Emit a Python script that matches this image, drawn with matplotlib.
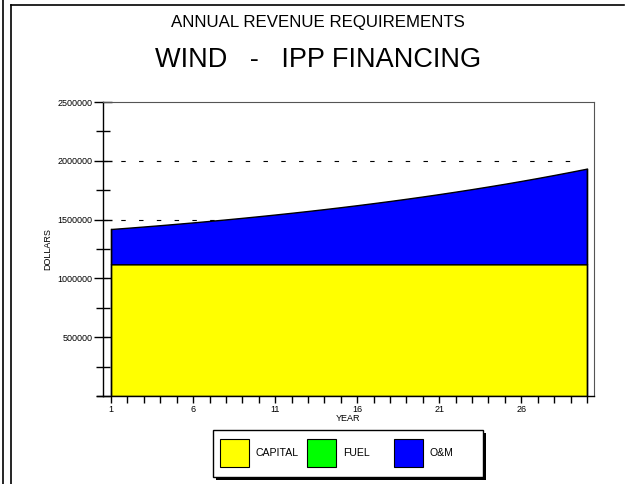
import matplotlib.pyplot as plt
import matplotlib.patches as mpatches
from matplotlib.lines import Line2D
from matplotlib.ticker import MultipleLocator

plt.rcParams['font.family'] = ['Liberation Sans', 'DejaVu Sans']

# data
years = list(range(1, 31))
capital = [1120000] * 30
fuel = [0] * 30
om = [300000, 310500, 321400, 332600, 344300, 356300, 368800, 381700, 395000, 408900,
      423200, 438000, 453300, 469200, 485600, 502600, 520200, 538400, 557300, 576800,
      597000, 617900, 639500, 661900, 685000, 709000, 733800, 759500, 786100, 813600]
xtick_years = [1, 6, 11, 16, 21, 26]

fig = plt.figure(figsize=(6.29, 4.84), dpi=100)

# page frame lines
fig.add_artist(Line2D([3 / 629, 3 / 629], [0, 1], color='black', lw=1.2))
fig.add_artist(Line2D([11 / 629, 11 / 629], [0, 1 - 5 / 484], color='black', lw=1.2))
fig.add_artist(Line2D([11 / 629, 624 / 629], [1 - 5 / 484, 1 - 5 / 484], color='black', lw=1.2))

fig.text(318 / 629, 1 - 23 / 484, 'ANNUAL REVENUE REQUIREMENTS', ha='center', va='center', fontsize=12.2)
fig.text(318 / 629, 1 - 60 / 484, 'WIND   -   IPP FINANCING', ha='center', va='center', fontsize=19.5)

ax = fig.add_axes([103 / 629, 1 - 396 / 484, (594 - 103) / 629, (396 - 102) / 484])

low = capital
mid = [c + f for c, f in zip(capital, fuel)]
top = [m + o for m, o in zip(mid, om)]

ax.fill_between(years, 0, low, facecolor='#ffff00', edgecolor='black', lw=1, zorder=2)
ax.fill_between(years, low, mid, facecolor='#00ff00', edgecolor='black', lw=0, zorder=2)
ax.fill_between(years, mid, top, facecolor='#0000ff', edgecolor='black', lw=1, zorder=2)
ax.plot([1, 1], [0, top[0]], color='black', lw=1, zorder=3)
ax.plot([30, 30], [0, top[-1]], color='black', lw=1, zorder=3)

ax.set_xlim(0.51, 30.43)
ax.set_ylim(0, 2500000)

ax.yaxis.set_major_locator(MultipleLocator(500000))
ax.yaxis.set_minor_locator(MultipleLocator(250000))
ax.set_yticks([500000, 1000000, 1500000, 2000000, 2500000])
ax.set_yticklabels(['500000', '1000000', '1500000', '2000000', '2500000'])
ax.tick_params(axis='y', which='major', direction='inout', length=13, width=1, labelsize=6.5, pad=1)
ax.tick_params(axis='y', which='minor', direction='inout', length=10, width=1)

ax.set_xticks(years, minor=True)
ax.set_xticks(xtick_years)
ax.set_xticklabels([str(y) for y in xtick_years])
ax.tick_params(axis='x', which='both', direction='out', length=5, width=1, labelsize=6.5, pad=1.5)

for v in [500000, 1000000, 1500000, 2000000]:
    ax.axhline(v, color='black', lw=0.8, ls=(0, (4, 12)), zorder=1, xmax=0.975)

ax.spines['top'].set_color('#555555')
ax.spines['right'].set_color('#555555')
ax.spines['top'].set_linewidth(0.8)
ax.spines['right'].set_linewidth(0.8)
ax.spines['left'].set_linewidth(1)
ax.spines['bottom'].set_linewidth(1)
# bottom axis line runs a little past the y axis
ax.add_line(Line2D([-0.012, 0], [0, 0], transform=ax.transAxes, color='black', lw=1, clip_on=False))

ax.set_ylabel('DOLLARS', fontsize=6.5, labelpad=4)
ax.set_xlabel('YEAR', fontsize=6.5, labelpad=0)

# legend box with shadow
W, H = 629, 484
shadow = mpatches.Rectangle((216 / W, 1 - 480 / H), 270 / W, 47 / H, transform=fig.transFigure,
                            facecolor='black', edgecolor='none')
box = mpatches.Rectangle((213 / W, 1 - 477 / H), 270 / W, 47 / H, transform=fig.transFigure,
                         facecolor='white', edgecolor='black', lw=1)
fig.add_artist(shadow)
fig.add_artist(box)
for x0, color, label in [(220, '#ffff00', 'CAPITAL'), (307, '#00ff00', 'FUEL'), (394, '#0000ff', 'O&M')]:
    fig.add_artist(mpatches.Rectangle((x0 / W, 1 - 467 / H), 29 / W, 28 / H, transform=fig.transFigure,
                                      facecolor=color, edgecolor='black', lw=0.8))
    fig.text((x0 + 36) / W, 1 - 453 / H, label, ha='left', va='center', fontsize=7.6)

fig.savefig('out.png', dpi=100)
